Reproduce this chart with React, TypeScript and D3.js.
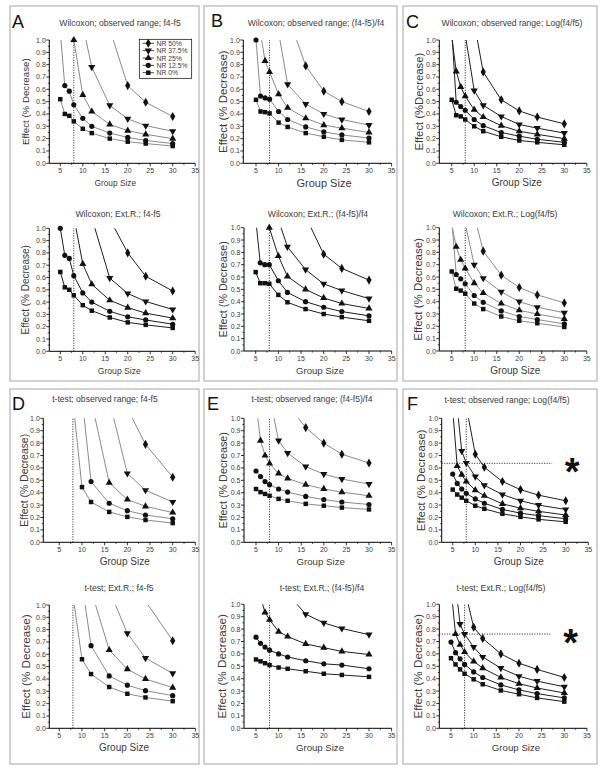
import React from "react";
import * as d3 from "d3";

const _ = null;

// ---------- shared axes data ----------
const GROUP_SIZES = [5, 6, 7, 8, 10, 12, 16, 20, 24, 30];
const SERIES_NAMES = ["NR 50%", "NR 37.5%", "NR 25%", "NR 12.5%", "NR 0%"];
const SERIES_SYMBOLS = ["diamond", "triangleDown", "triangle", "circle", "square"];
const X_TICKS = [5, 10, 15, 20, 25, 30, 35];
const X_MINOR_TICKS = [7.5, 12.5, 17.5, 22.5, 27.5, 32.5];
const Y_TICKS = [0, 0.1, 0.2, 0.3, 0.4, 0.5, 0.6, 0.7, 0.8, 0.9, 1.0];
const Y_MINOR_TICKS = [0.05, 0.15, 0.25, 0.35, 0.45, 0.55, 0.65, 0.75, 0.85, 0.95];
const REF_GROUP_SIZE = 8;

// ---------- series values (rows: NR 50%, 37.5%, 25%, 12.5%, 0%) ----------
const wilcoxonObsDiff = [
  [_, _, _, _, _, _, 1.09, 0.63, 0.495, 0.38],
  [_, _, _, _, 1.12, 0.78, 0.47, 0.36, 0.305, 0.26],
  [_, _, _, 1.0, 0.555, 0.42, 0.315, 0.265, 0.235, 0.2],
  [1.065, 0.63, 0.585, 0.475, 0.365, 0.3, 0.245, 0.21, 0.185, 0.16],
  [0.52, 0.4, 0.385, 0.34, 0.28, 0.245, 0.2, 0.175, 0.16, 0.14],
];
const wilcoxonObsRel = [
  [_, _, _, _, _, 1.21, 0.79, 0.585, 0.5, 0.42],
  [_, _, _, _, 1.064, 0.64, 0.48, 0.4, 0.355, 0.31],
  [_, 1.057, 0.83, 0.74, 0.56, 0.45, 0.365, 0.31, 0.285, 0.25],
  [1.0, 0.545, 0.53, 0.52, 0.42, 0.355, 0.295, 0.255, 0.23, 0.205],
  [0.515, 0.42, 0.415, 0.405, 0.33, 0.295, 0.245, 0.215, 0.19, 0.17],
];
const wilcoxonObsLog = [
  [_, _, _, _, 1.14, 0.74, 0.515, 0.425, 0.375, 0.32],
  [_, _, _, 1.046, 0.59, 0.47, 0.38, 0.315, 0.285, 0.245],
  [1.03, 0.745, 0.62, 0.545, 0.435, 0.375, 0.305, 0.26, 0.235, 0.2],
  [1.09, 0.495, 0.46, 0.43, 0.355, 0.305, 0.25, 0.22, 0.195, 0.17],
  [0.515, 0.39, 0.38, 0.355, 0.3, 0.26, 0.215, 0.185, 0.17, 0.15],
];
const wilcoxonExtDiff = [
  [_, _, _, _, _, _, 1.076, 0.8, 0.61, 0.49],
  [_, _, _, _, _, 1.086, 0.595, 0.47, 0.405, 0.34],
  [_, _, _, 1.097, 0.71, 0.545, 0.415, 0.355, 0.31, 0.27],
  [1.0, 0.78, 0.755, 0.615, 0.475, 0.4, 0.325, 0.28, 0.255, 0.22],
  [0.645, 0.52, 0.5, 0.455, 0.375, 0.33, 0.275, 0.235, 0.215, 0.19],
];
const wilcoxonExtRel = [
  [_, _, _, _, _, _, 1.092, 0.785, 0.67, 0.575],
  [_, _, _, _, 1.066, 0.845, 0.66, 0.545, 0.49, 0.425],
  [_, _, _, 1.0, 0.77, 0.605, 0.5, 0.43, 0.385, 0.345],
  [1.071, 0.715, 0.7, 0.7, 0.57, 0.475, 0.4, 0.355, 0.32, 0.285],
  [0.64, 0.55, 0.55, 0.545, 0.455, 0.395, 0.34, 0.3, 0.275, 0.245],
];
const wilcoxonExtLog = [
  [_, _, _, _, 1.102, 0.81, 0.615, 0.515, 0.455, 0.39],
  [_, _, _, 1.033, 0.7, 0.59, 0.48, 0.4, 0.355, 0.31],
  [1.027, 0.845, 0.74, 0.67, 0.55, 0.47, 0.385, 0.33, 0.3, 0.26],
  [1.07, 0.62, 0.585, 0.545, 0.45, 0.395, 0.325, 0.28, 0.255, 0.22],
  [0.645, 0.505, 0.49, 0.465, 0.385, 0.34, 0.28, 0.245, 0.225, 0.195],
];
const tTestObsDiff = [
  [_, _, _, _, _, _, _, 1.08, 0.79, 0.525],
  [_, _, _, _, _, _, 1.148, 0.555, 0.42, 0.325],
  [_, _, _, _, _, 1.151, 0.48, 0.345, 0.29, 0.24],
  [_, _, _, _, 1.17, 0.49, 0.315, 0.255, 0.22, 0.19],
  [_, _, _, 1.139, 0.445, 0.325, 0.245, 0.205, 0.18, 0.155],
];
const tTestObsRel = [
  [_, _, _, _, _, 1.11, 0.925, 0.8, 0.71, 0.64],
  [_, _, _, 1.18, 0.82, 0.72, 0.61, 0.55, 0.51, 0.47],
  [1.12, 0.82, 0.7, 0.635, 0.555, 0.515, 0.465, 0.43, 0.405, 0.375],
  [0.575, 0.53, 0.49, 0.465, 0.43, 0.405, 0.37, 0.345, 0.325, 0.305],
  [0.43, 0.405, 0.39, 0.375, 0.35, 0.335, 0.31, 0.295, 0.28, 0.265],
];
const tTestObsLog = [
  [_, _, _, 1.097, 0.71, 0.605, 0.49, 0.425, 0.38, 0.335],
  [_, 1.088, 0.735, 0.64, 0.53, 0.46, 0.385, 0.335, 0.3, 0.265],
  [1.068, 0.615, 0.545, 0.49, 0.42, 0.375, 0.31, 0.275, 0.25, 0.22],
  [0.55, 0.475, 0.43, 0.395, 0.35, 0.315, 0.265, 0.235, 0.215, 0.19],
  [0.425, 0.385, 0.36, 0.335, 0.295, 0.27, 0.23, 0.205, 0.185, 0.165],
];
const tTestExtDiff = [
  [_, _, _, _, _, _, _, _, 1.032, 0.71],
  [_, _, _, _, _, _, 1.123, 0.77, 0.57, 0.445],
  [_, _, _, _, _, 1.121, 0.635, 0.48, 0.4, 0.33],
  [_, _, _, _, 1.178, 0.67, 0.425, 0.35, 0.305, 0.265],
  [_, _, _, 1.078, 0.56, 0.44, 0.335, 0.28, 0.25, 0.22],
];
const tTestExtRel = [
  [_, _, _, _, _, _, _, _, _, _],
  [_, _, _, _, _, 1.088, 0.92, 0.85, 0.805, 0.755],
  [_, 1.055, 0.935, 0.875, 0.78, 0.74, 0.68, 0.65, 0.62, 0.595],
  [0.735, 0.685, 0.655, 0.63, 0.6, 0.575, 0.545, 0.52, 0.51, 0.48],
  [0.555, 0.54, 0.525, 0.51, 0.49, 0.48, 0.46, 0.44, 0.43, 0.415],
];
const tTestExtLog = [
  [_, _, _, 1.123, 0.815, 0.725, 0.6, 0.525, 0.475, 0.41],
  [_, 1.16, 0.84, 0.76, 0.655, 0.575, 0.485, 0.42, 0.38, 0.335],
  [1.129, 0.76, 0.675, 0.615, 0.54, 0.485, 0.41, 0.36, 0.325, 0.285],
  [0.695, 0.61, 0.56, 0.515, 0.455, 0.41, 0.35, 0.31, 0.28, 0.245],
  [0.565, 0.515, 0.475, 0.44, 0.395, 0.355, 0.305, 0.275, 0.245, 0.215],
];

// reference effect lines (panel F) and their cut-off group size
const F_REF_EFFECTS = [0.637, 0.76];
const F_REF_END_SIZE = 27;

// ---------- layout ----------
const FONT = "'Liberation Sans', Arial, Helvetica, sans-serif";
const GRAY = "#8a8a8a";
const DARK = "#1e1e1e";
const TEXT = "#3a3a3a";

type Cfg = {
  title: string;
  values: (number | null)[][];
  axisX: number; x5: number; x30: number; yTop: number; yBot: number;
  titleX: number; titleY: number;
  xLabX: number; yLabX: number;
  xLabSize: number; yLabSize: number;
  lineColor: string;
  yLabel?: string;
  legend?: boolean;
  refEffect?: number;
};

const SUBPLOTS: Cfg[] = [
  { title: "Wilcoxon; observed range; f4-f5", values: wilcoxonObsDiff, axisX: 49.3, x5: 60.3, x30: 172.7, yTop: 40, yBot: 163.3, titleX: 120, titleY: 23.3, xLabX: 115.3, yLabX: 25, xLabSize: 8.3, yLabSize: 9.7, lineColor: GRAY, legend: true },
  { title: "Wilcoxon; observed range; (f4-f5)/f4", values: wilcoxonObsRel, axisX: 243.3, x5: 256, x30: 369, yTop: 40, yBot: 163.3, titleX: 316, titleY: 22.7, xLabX: 324, yLabX: 223, xLabSize: 11, yLabSize: 11.5, lineColor: GRAY },
  { title: "Wilcoxon; observed range; Log(f4/f5)", values: wilcoxonObsLog, axisX: 439.3, x5: 451.7, x30: 564.3, yTop: 40, yBot: 163.3, titleX: 512, titleY: 23.3, xLabX: 516.7, yLabX: 419, xLabSize: 10, yLabSize: 11.3, lineColor: DARK, yLabel: "Effect (%Decrease)" },
  { title: "Wilcoxon; Ext.R.; f4-f5", values: wilcoxonExtDiff, axisX: 49.3, x5: 60.3, x30: 172.7, yTop: 228.3, yBot: 351.3, titleX: 118, titleY: 214, xLabX: 119.3, yLabX: 25, xLabSize: 8.6, yLabSize: 10, lineColor: DARK },
  { title: "Wilcoxon; Ext.R.; (f4-f5)/f4", values: wilcoxonExtRel, axisX: 244, x5: 255.7, x30: 369, yTop: 227.7, yBot: 351, titleX: 318, titleY: 214, xLabX: 320, yLabX: 223, xLabSize: 9.6, yLabSize: 10.8, lineColor: DARK },
  { title: "Wilcoxon; Ext.R.; Log(f4/f5)", values: wilcoxonExtLog, axisX: 439.3, x5: 451.7, x30: 564.3, yTop: 227.7, yBot: 351, titleX: 505, titleY: 214, xLabX: 515.3, yLabX: 418, xLabSize: 10, yLabSize: 11.5, lineColor: GRAY },
  { title: "t-test; observed range; f4-f5", values: tTestObsDiff, axisX: 43.3, x5: 59.3, x30: 172.7, yTop: 418.3, yBot: 542.3, titleX: 105, titleY: 399, xLabX: 124.7, yLabX: 24, xLabSize: 10, yLabSize: 10.4, lineColor: GRAY },
  { title: "t-test; observed range; (f4-f5)/f4", values: tTestObsRel, axisX: 244, x5: 256, x30: 369, yTop: 418.3, yBot: 542.3, titleX: 312, titleY: 399, xLabX: 320.7, yLabX: 223, xLabSize: 9.7, yLabSize: 10.8, lineColor: GRAY },
  { title: "t-test; observed range; Log(f4/f5)", values: tTestObsLog, axisX: 441.7, x5: 452.7, x30: 565.7, yTop: 418.3, yBot: 542.3, titleX: 507, titleY: 400, xLabX: 518.7, yLabX: 421, xLabSize: 10, yLabSize: 11.4, lineColor: DARK, refEffect: F_REF_EFFECTS[0] },
  { title: "t-test; Ext.R.; f4-f5", values: tTestExtDiff, axisX: 49.3, x5: 59.3, x30: 172.7, yTop: 605, yBot: 728.3, titleX: 119, titleY: 588.3, xLabX: 124, yLabX: 25, xLabSize: 10, yLabSize: 11.7, lineColor: GRAY },
  { title: "t-test; Ext.R.; (f4-f5)/f4", values: tTestExtRel, axisX: 244, x5: 256, x30: 369, yTop: 604.3, yBot: 728.3, titleX: 322, titleY: 588.3, xLabX: 320, yLabX: 221, xLabSize: 9.6, yLabSize: 11.7, lineColor: DARK },
  { title: "t-test; Ext.R.; Log(f4/f5)", values: tTestExtLog, axisX: 439.3, x5: 451, x30: 564.3, yTop: 604.3, yBot: 728.3, titleX: 501, titleY: 588.3, xLabX: 516, yLabX: 417, xLabSize: 9.7, yLabSize: 11.7, lineColor: DARK, refEffect: F_REF_EFFECTS[1] },
];

const BOXES = [
  { x0: 10, x1: 199, y0: 6, y1: 381 },
  { x0: 204, x1: 397, y0: 6, y1: 381 },
  { x0: 403, x1: 597, y0: 6, y1: 381 },
  { x0: 10, x1: 199, y0: 389, y1: 764 },
  { x0: 204, x1: 397, y0: 389, y1: 764 },
  { x0: 403, x1: 597, y0: 389, y1: 764 },
];

const LETTERS = [
  { t: "A", x: 12, y: 28 },
  { t: "B", x: 211, y: 27 },
  { t: "C", x: 406, y: 28 },
  { t: "D", x: 12, y: 410 },
  { t: "E", x: 207, y: 410 },
  { t: "F", x: 407, y: 410 },
];

function symbolPath(kind: string): string {
  const gen = d3.symbol();
  if (kind === "diamond") return gen.type(d3.symbolDiamond).size(24)() as string;
  if (kind === "triangle" || kind === "triangleDown") return gen.type(d3.symbolTriangle).size(22)() as string;
  if (kind === "circle") return gen.type(d3.symbolCircle).size(21)() as string;
  return gen.type(d3.symbolSquare).size(20)() as string;
}

function Marker({ kind, x, y }: { kind: string; x: number; y: number }) {
  const rot = kind === "triangleDown" ? " rotate(180)" : "";
  return <path d={symbolPath(kind)} transform={`translate(${x},${y})${rot}`} fill="#111" />;
}

function Subplot({ cfg, idx }: { cfg: Cfg; idx: number }) {
  const x = d3.scaleLinear().domain([5, 30]).range([cfg.x5, cfg.x30]);
  const y = d3.scaleLinear().domain([0, 1]).range([cfg.yBot, cfg.yTop]);
  const xEnd = x(35);
  const clipId = `clip-${idx}`;
  const line = d3
    .line<{ gs: number; v: number | null }>()
    .defined((d) => d.v !== null)
    .x((d) => x(d.gs))
    .y((d) => y(d.v as number));
  const fmt = d3.format(".1f");
  const yLabel = cfg.yLabel ?? "Effect (% Decrease)";
  const yMid = (cfg.yTop + cfg.yBot) / 2;

  return (
    <g>
      <defs>
        <clipPath id={clipId}>
          <rect x={cfg.axisX} y={cfg.yTop} width={xEnd - cfg.axisX} height={cfg.yBot - cfg.yTop} />
        </clipPath>
      </defs>
      {/* title */}
      <text x={cfg.titleX} y={cfg.titleY} textAnchor="middle" dominantBaseline="central" fontSize={8.6} fill={TEXT}>
        {cfg.title}
      </text>
      {/* axes */}
      <line x1={cfg.axisX} x2={cfg.axisX} y1={y(0)} y2={y(1)} stroke="#000" strokeWidth={1} />
      <line x1={cfg.axisX} x2={xEnd} y1={y(0)} y2={y(0)} stroke="#000" strokeWidth={1} />
      {Y_TICKS.map((t) => (
        <g key={`yt${t}`}>
          <line x1={cfg.axisX - 3} x2={cfg.axisX} y1={y(t)} y2={y(t)} stroke="#000" strokeWidth={0.8} />
          <text x={cfg.axisX - 3.5} y={y(t)} textAnchor="end" dominantBaseline="central" fontSize={7} fill={TEXT}>
            {fmt(t)}
          </text>
        </g>
      ))}
      {Y_MINOR_TICKS.map((t) => (
        <line key={`ym${t}`} x1={cfg.axisX - 1.6} x2={cfg.axisX} y1={y(t)} y2={y(t)} stroke="#000" strokeWidth={0.7} />
      ))}
      {X_TICKS.map((t) => (
        <g key={`xt${t}`}>
          <line x1={x(t)} x2={x(t)} y1={y(0)} y2={y(0) + 3} stroke="#000" strokeWidth={0.8} />
          <text x={x(t)} y={y(0) + 7.6} textAnchor="middle" dominantBaseline="central" fontSize={7} fill={TEXT}>
            {t}
          </text>
        </g>
      ))}
      {X_MINOR_TICKS.map((t) => (
        <line key={`xm${t}`} x1={x(t)} x2={x(t)} y1={y(0)} y2={y(0) + 1.6} stroke="#000" strokeWidth={0.7} />
      ))}
      {/* axis titles */}
      <text x={cfg.xLabX} y={y(0) + 19.5} textAnchor="middle" dominantBaseline="central" fontSize={cfg.xLabSize} fill={TEXT}>
        Group Size
      </text>
      <text
        transform={`translate(${cfg.yLabX},${yMid}) rotate(-90)`}
        textAnchor="middle"
        dominantBaseline="central"
        fontSize={cfg.yLabSize}
        fill={TEXT}
      >
        {yLabel}
      </text>
      {/* reference group size */}
      <line
        x1={x(REF_GROUP_SIZE)}
        x2={x(REF_GROUP_SIZE)}
        y1={y(0)}
        y2={y(1)}
        stroke="#000"
        strokeWidth={0.9}
        strokeDasharray="1,1.5"
      />
      {cfg.refEffect !== undefined && (
        <g>
          <line
            x1={cfg.axisX}
            x2={x(F_REF_END_SIZE)}
            y1={y(cfg.refEffect)}
            y2={y(cfg.refEffect)}
            stroke="#000"
            strokeWidth={0.9}
            strokeDasharray="1,1.5"
          />
          <text x={x(31.4)} y={y(cfg.refEffect) + 22} textAnchor="middle" fontSize={38} fontWeight="bold" fill="#111">
            *
          </text>
        </g>
      )}
      {/* series lines */}
      <g clipPath={`url(#${clipId})`}>
        {cfg.values.map((row, si) => (
          <path
            key={`l${si}`}
            d={line(row.map((v, i) => ({ gs: GROUP_SIZES[i], v }))) || ""}
            fill="none"
            stroke={cfg.lineColor}
            strokeWidth={1}
          />
        ))}
      </g>
      {/* markers */}
      {cfg.values.map((row, si) =>
        row.map((v, i) =>
          v !== null && v <= 1.0001 ? (
            <Marker key={`m${si}-${i}`} kind={SERIES_SYMBOLS[si]} x={x(GROUP_SIZES[i])} y={y(v)} />
          ) : null
        )
      )}
      {/* legend */}
      {cfg.legend && (
        <g>
          <rect x={139.3} y={39.3} width={52.4} height={39} fill="#fff" stroke="#000" strokeWidth={0.7} />
          {SERIES_NAMES.map((name, si) => {
            const ly = 43.3 + si * 7.35;
            return (
              <g key={name}>
                <line x1={142.7} x2={154} y1={ly} y2={ly} stroke="#333" strokeWidth={0.9} />
                <Marker kind={SERIES_SYMBOLS[si]} x={148.3} y={ly} />
                <text x={156.5} y={ly} dominantBaseline="central" fontSize={6.8} fill={TEXT}>
                  {name}
                </text>
              </g>
            );
          })}
        </g>
      )}
    </g>
  );
}

export default function App() {
  return (
    <svg
      width={602}
      height={773}
      viewBox="0 0 602 773"
      style={{ position: "absolute", left: 0, top: 0, background: "#fff", fontFamily: FONT }}
    >
      <rect x={0} y={0} width={602} height={773} fill="#fff" />
      {BOXES.map((b, i) => (
        <rect key={i} x={b.x0} y={b.y0} width={b.x1 - b.x0} height={b.y1 - b.y0} fill="none" stroke="#b4b4b4" strokeWidth={1.2} />
      ))}
      {LETTERS.map((l) => (
        <text key={l.t} x={l.x} y={l.y} fontSize={18} fill="#111">
          {l.t}
        </text>
      ))}
      {SUBPLOTS.map((cfg, i) => (
        <Subplot key={i} cfg={cfg} idx={i} />
      ))}
    </svg>
  );
}
